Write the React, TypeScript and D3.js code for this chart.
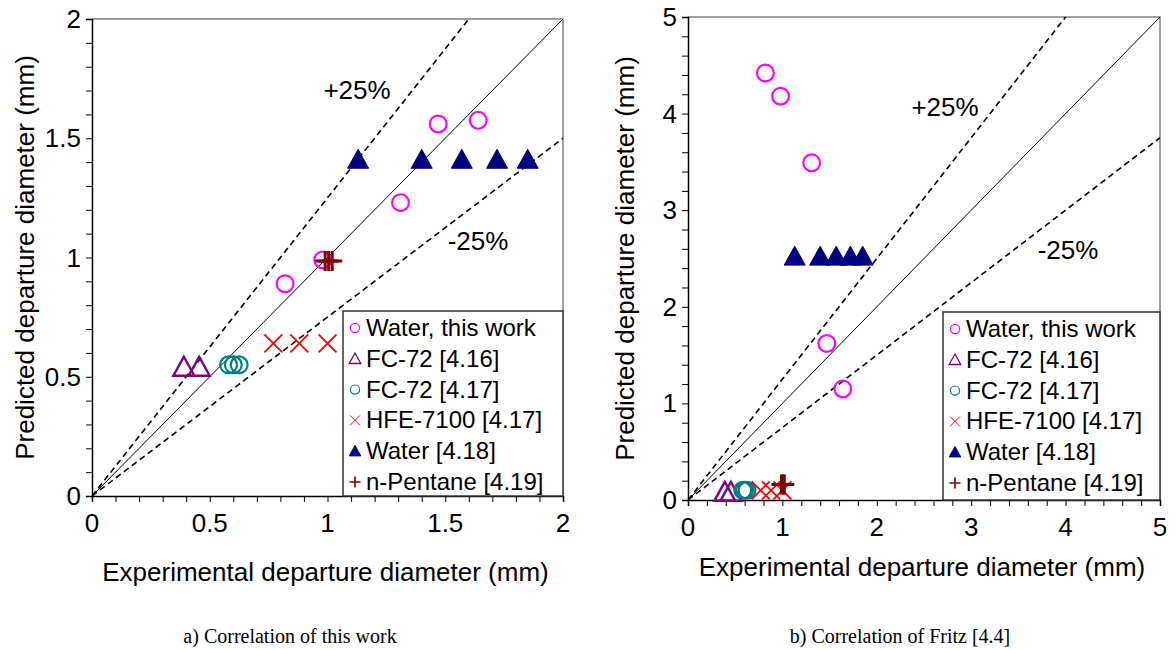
import React, { useEffect, useRef } from "react";
import * as d3 from "d3";

// ---------- Data ----------
const seriesNames = [
  "Water, this work",
  "FC-72 [4.16]",
  "FC-72 [4.17]",
  "HFE-7100 [4.17]",
  "Water [4.18]",
  "n-Pentane [4.19]",
];
const seriesColors = ["#ff00ff", "#800080", "#008080", "#ff0000", "#000080", "#800000"];
const seriesShapes = ["circle", "triangle", "circle", "cross", "filledTriangle", "plus"];

// Experimental (x) values, mm
const waterThisWorkX = [0.82, 0.98, 1.31, 1.47, 1.64];
const fc72_416X = [0.39, 0.455];
const fc72_417X = [0.58, 0.6, 0.625];
const hfe7100X = [0.77, 0.88, 1.0];
const water418X = [1.13, 1.4, 1.57, 1.72, 1.85];
const pentaneX = [0.99, 1.005, 1.02];

// Predicted by this work (panel a)
const waterThisWorkA = [0.89, 0.99, 1.23, 1.56, 1.575];
const fc72_416A = [0.54, 0.54];
const fc72_417A = [0.55, 0.55, 0.55];
const hfe7100A = [0.64, 0.64, 0.64];
const water418A = [1.41, 1.41, 1.41, 1.41, 1.41];
const pentaneA = [0.985, 0.985, 0.985];

// Predicted by Fritz (panel b)
const waterThisWorkB = [4.42, 4.18, 3.49, 1.62, 1.15];
const fc72_416B = [0.08, 0.08];
const fc72_417B = [0.1, 0.1, 0.1];
const hfe7100B = [0.1, 0.1, 0.1];
const water418B = [2.52, 2.52, 2.52, 2.52, 2.52];
const pentaneB = [0.16, 0.16, 0.16];

const xsAll = [waterThisWorkX, fc72_416X, fc72_417X, hfe7100X, water418X, pentaneX];
const ysA = [waterThisWorkA, fc72_416A, fc72_417A, hfe7100A, water418A, pentaneA];
const ysB = [waterThisWorkB, fc72_416B, fc72_417B, hfe7100B, water418B, pentaneB];

const ticksA = [0, 0.5, 1, 1.5, 2];
const ticksB = [0, 1, 2, 3, 4, 5];
const bandFactors = [1.25, 1, 0.75];

const xTitle = "Experimental departure diameter (mm)";
const yTitle = "Predicted departure diameter (mm)";
const captionA = "a) Correlation of this work";
const captionB = "b) Correlation of Fritz [4.4]";

const FONT = "'Liberation Sans', Arial, sans-serif";
const BIG = 26;

type Panel = {
  x0: number; x1: number; yTop: number; yBot: number; max: number; minorStep: number;
  ticks: number[]; ys: number[][];
  legend: { x: number; y: number; w: number; h: number };
  plusLbl: [number, number]; minusLbl: [number, number];
  xTitleY: number; yTitleX: number; caption: string; captionX: number;
};

function drawMarker(g: any, shape: string, color: string, cx: number, cy: number, s: number) {
  if (shape === "circle") {
    g.append("circle").attr("cx", cx).attr("cy", cy).attr("r", s * 0.42)
      .attr("fill", "none").attr("stroke", color).attr("stroke-width", s * 0.11);
  } else if (shape === "triangle" || shape === "filledTriangle") {
    const h = s * 0.95, w = s * 1.05;
    const pts = [[cx, cy - h * 0.55], [cx + w / 2, cy + h * 0.45], [cx - w / 2, cy + h * 0.45]];
    g.append("polygon").attr("points", pts.map((p) => p.join(",")).join(" "))
      .attr("fill", shape === "filledTriangle" ? color : "none")
      .attr("stroke", color).attr("stroke-width", shape === "filledTriangle" ? 1 : s * 0.12)
      .attr("stroke-linejoin", "miter");
  } else if (shape === "cross") {
    const r = s * 0.45;
    g.append("path").attr("d", `M${cx - r},${cy - r}L${cx + r},${cy + r}M${cx - r},${cy + r}L${cx + r},${cy - r}`)
      .attr("stroke", color).attr("stroke-width", s * 0.09).attr("fill", "none");
  } else if (shape === "plus") {
    const r = s * 0.5;
    g.append("path").attr("d", `M${cx - r},${cy}L${cx + r},${cy}M${cx},${cy - r}L${cx},${cy + r}`)
      .attr("stroke", color).attr("stroke-width", s * 0.15).attr("fill", "none");
  }
}

function drawPanel(svg: any, p: Panel) {
  const x = d3.scaleLinear().domain([0, p.max]).range([p.x0, p.x1]);
  const y = d3.scaleLinear().domain([0, p.max]).range([p.yBot, p.yTop]);
  const g = svg.append("g");
  const clipId = "clip" + p.x0;
  svg.append("clipPath").attr("id", clipId).append("rect")
    .attr("x", p.x0).attr("y", p.yTop).attr("width", p.x1 - p.x0).attr("height", p.yBot - p.yTop);

  // plot frame (top/right grey)
  g.append("path").attr("d", `M${p.x0},${p.yTop}L${p.x1},${p.yTop}L${p.x1},${p.yBot}`)
    .attr("stroke", "#808080").attr("stroke-width", 1.5).attr("fill", "none");

  // reference lines
  const lg = g.append("g").attr("clip-path", `url(#${clipId})`);
  bandFactors.forEach((f) => {
    lg.append("line").attr("x1", x(0)).attr("y1", y(0)).attr("x2", x(p.max)).attr("y2", y(p.max * f))
      .attr("stroke", "#000").attr("stroke-width", f === 1 ? 1 : 1.6)
      .attr("stroke-dasharray", f === 1 ? null : "6,4");
  });

  // axes
  const minor = d3.range(0, p.max + 1e-9, p.minorStep);
  const xAxis = d3.axisBottom(x).tickValues(minor).tickSize(6).tickFormat(() => "");
  const yAxis = d3.axisLeft(y).tickValues(minor).tickSize(6).tickFormat(() => "");
  const gx = g.append("g").attr("transform", `translate(0,${p.yBot})`).call(xAxis);
  const gy = g.append("g").attr("transform", `translate(${p.x0},0)`).call(yAxis);
  [gx, gy].forEach((a) => {
    a.select(".domain").attr("stroke", "#000").attr("stroke-width", 1.5);
    a.selectAll(".tick line").attr("stroke", "#000").attr("stroke-width", 1);
  });
  p.ticks.forEach((t) => {
    g.append("text").attr("x", x(t)).attr("y", p.yBot + 36).attr("text-anchor", "middle")
      .attr("font-family", FONT).attr("font-size", BIG).text(String(t));
    g.append("text").attr("x", p.x0 - 11).attr("y", y(t) + 9).attr("text-anchor", "end")
      .attr("font-family", FONT).attr("font-size", BIG).text(String(t));
  });

  // titles
  g.append("text").attr("x", (p.x0 + p.x1) / 2 - 2).attr("y", p.xTitleY).attr("text-anchor", "middle")
    .attr("font-family", FONT).attr("font-size", BIG).text(xTitle);
  g.append("text").attr("transform", `translate(${p.yTitleX},${(p.yTop + p.yBot) / 2}) rotate(-90)`)
    .attr("text-anchor", "middle").attr("font-family", FONT).attr("font-size", BIG).text(yTitle);

  // band labels
  g.append("text").attr("x", p.plusLbl[0]).attr("y", p.plusLbl[1]).attr("text-anchor", "middle")
    .attr("font-family", FONT).attr("font-size", BIG).text("+25%");
  g.append("text").attr("x", p.minusLbl[0]).attr("y", p.minusLbl[1]).attr("text-anchor", "middle")
    .attr("font-family", FONT).attr("font-size", BIG).text("-25%");

  // legend box
  const L = p.legend;
  g.append("rect").attr("x", L.x).attr("y", L.y).attr("width", L.w).attr("height", L.h)
    .attr("fill", "#fff").attr("stroke", "#333").attr("stroke-width", 1.5);

  // data
  seriesNames.forEach((_, i) => {
    const xs = xsAll[i], ys = p.ys[i];
    xs.forEach((xv, j) => {
      drawMarker(g, seriesShapes[i], seriesColors[i], x(xv), y(ys[j]), 20);
    });
  });

  // legend entries
  seriesNames.forEach((name, i) => {
    const cy = L.y + 17 + i * 30.8;
    drawMarker(g, seriesShapes[i], seriesColors[i], L.x + 12, cy, 11);
    g.append("text").attr("x", L.x + 23).attr("y", cy + 8).attr("font-family", FONT)
      .attr("font-size", 24).text(name);
  });

  // caption
  g.append("text").attr("x", p.captionX).attr("y", 643).attr("text-anchor", "middle")
    .attr("font-family", "'Liberation Serif', 'Times New Roman', serif").attr("font-size", 20).text(p.caption);
}

export default function App() {
  const ref = useRef<SVGSVGElement>(null);
  useEffect(() => {
    const svg = d3.select(ref.current);
    svg.selectAll("*").remove();
    drawPanel(svg, {
      x0: 92, x1: 563, yTop: 19, yBot: 496, max: 2, minorStep: 0.1, ticks: ticksA, ys: ysA,
      legend: { x: 343, y: 311, w: 220, h: 185 },
      plusLbl: [357, 99], minusLbl: [478, 250],
      xTitleY: 581, yTitleX: 34, caption: captionA, captionX: 290,
    });
    drawPanel(svg, {
      x0: 688, x1: 1160, yTop: 17, yBot: 500, max: 5, minorStep: 0.2, ticks: ticksB, ys: ysB,
      legend: { x: 943, y: 312, w: 217, h: 188 },
      plusLbl: [945, 116], minusLbl: [1068, 259],
      xTitleY: 576, yTitleX: 634, caption: captionB, captionX: 900,
    });
  }, []);
  return (
    <svg ref={ref} width={1176} height={650} style={{ position: "absolute", left: 0, top: 0, background: "#fff" }} />
  );
}
